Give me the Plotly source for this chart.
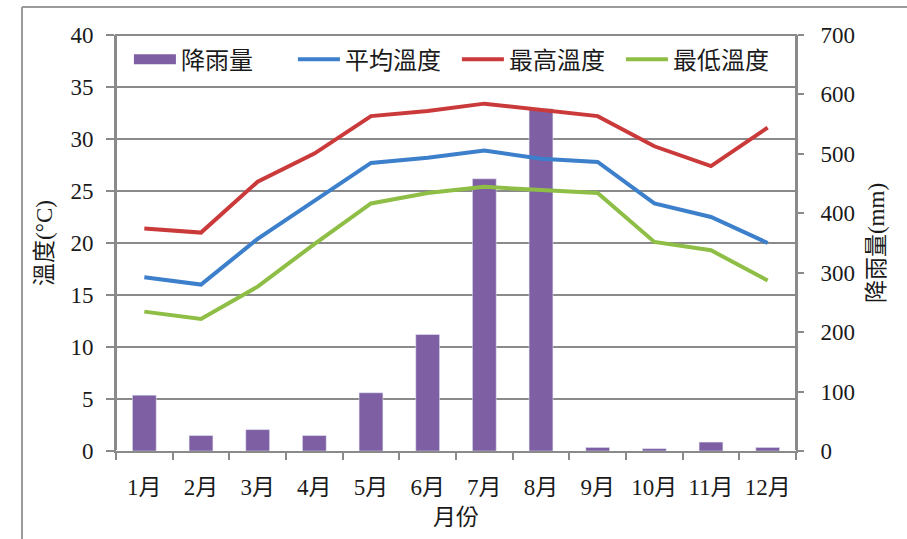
import plotly.graph_objects as go

months = ["1月", "2月", "3月", "4月", "5月", "6月", "7月", "8月", "9月", "10月", "11月", "12月"]
rainfall = [94, 26, 36, 26, 98, 196, 458, 576, 6, 4, 15, 6]
avg_temp = [16.7, 16.0, 20.4, 24.1, 27.7, 28.2, 28.9, 28.1, 27.8, 23.8, 22.5, 20.0]
max_temp = [21.4, 21.0, 25.9, 28.6, 32.2, 32.7, 33.4, 32.8, 32.2, 29.3, 27.4, 31.1]
min_temp = [13.4, 12.7, 15.8, 19.9, 23.8, 24.8, 25.4, 25.1, 24.8, 20.1, 19.3, 16.4]

FONT = "Liberation Serif, Noto Sans CJK TC, serif"
GRID = "#8a8a8a"
PURPLE = "#7E5FA4"

fig = go.Figure()
fig.add_trace(go.Bar(x=months, y=rainfall, name="降雨量", marker_color=PURPLE,
                     width=0.42, yaxis="y", showlegend=False))
# legend key for the rainfall bars, drawn as a wide flat block
fig.add_trace(go.Scatter(x=[None], y=[None], name="降雨量", mode="lines",
                         line=dict(color=PURPLE, width=12), yaxis="y"))
fig.add_trace(go.Scatter(x=months, y=avg_temp, name="平均溫度", mode="lines",
                         line=dict(color="#3C7FCB", width=4), yaxis="y2"))
fig.add_trace(go.Scatter(x=months, y=max_temp, name="最高溫度", mode="lines",
                         line=dict(color="#CB3A3A", width=4), yaxis="y2"))
fig.add_trace(go.Scatter(x=months, y=min_temp, name="最低溫度", mode="lines",
                         line=dict(color="#8EBE45", width=4), yaxis="y2"))

fig.update_layout(
    width=907, height=539,
    margin=dict(l=116, r=111, t=35, b=88),
    paper_bgcolor="white", plot_bgcolor="white",
    font=dict(family=FONT, size=22, color="#1a1a1a"),
    showlegend=True,
    legend=dict(orientation="h", x=0.019, y=0.995, xanchor="left", yanchor="top",
                bgcolor="rgba(0,0,0,0)", font=dict(size=24),
                itemwidth=42, entrywidth=107, tracegroupgap=0),
    xaxis=dict(title=dict(text="月份", standoff=10, font=dict(size=23)), showgrid=False,
               showline=True, linecolor=GRID, linewidth=2,
               ticks="outside", tickson="boundaries", ticklen=7, tickcolor=GRID,
               tickwidth=2, ticklabelstandoff=14, tickfont=dict(size=23)),
    yaxis=dict(title=dict(text="降雨量(mm)", standoff=14, font=dict(size=23)), side="right",
               range=[0, 700], dtick=100, showgrid=False,
               showline=True, linecolor=GRID, linewidth=2,
               ticks="outside", ticklen=6, tickcolor=GRID, tickwidth=2,
               ticklabelstandoff=12, tickfont=dict(size=23)),
    yaxis2=dict(title=dict(text="溫度(°C)", standoff=11, font=dict(size=23)), side="left",
                overlaying="y", range=[0, 40], dtick=5, showgrid=True, gridcolor=GRID,
                gridwidth=2, showline=True, linecolor=GRID, linewidth=2,
                ticks="outside", ticklen=8, tickcolor=GRID, tickwidth=2,
                ticklabelstandoff=8, tickfont=dict(size=23)),
    shapes=[dict(type="rect", xref="paper", yref="paper", x0=0, x1=1, y0=0, y1=1,
                 line=dict(color=GRID, width=2), layer="below"),
            dict(type="line", xref="paper", yref="paper", x0=-(116 - 22) / 680, x1=1.2,
                 y0=1 + (35 - 7) / 416, y1=1 + (35 - 7) / 416,
                 line=dict(color="#9a9a9a", width=2)),
            dict(type="line", xref="paper", yref="paper", x0=-(116 - 22) / 680, x1=-(116 - 22) / 680,
                 y0=1 + (35 - 7) / 416, y1=-0.3,
                 line=dict(color="#9a9a9a", width=2))],
)

fig.write_html("out.html")
